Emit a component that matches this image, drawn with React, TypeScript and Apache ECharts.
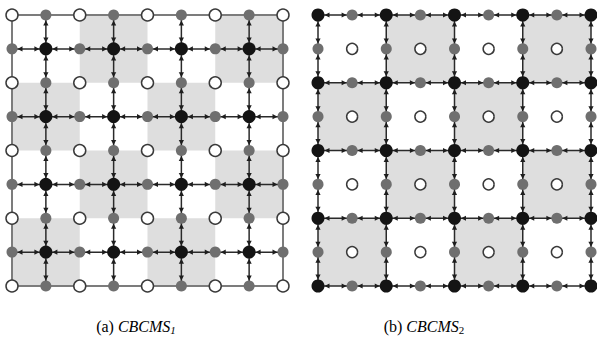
import React, { useEffect, useRef } from "react";
import * as echarts from "echarts";

// Node layouts: W = open (white) node, G = grey node, B = black node
const panelANodes = [
  "WGWGWGWGW",
  "GBGBGBGBG",
  "WGWGWGWGW",
  "GBGBGBGBG",
  "WGWGWGWGW",
  "GBGBGBGBG",
  "WGWGWGWGW",
  "GBGBGBGBG",
  "WGWGWGWGW",
];
const panelBNodes = [
  "BGBGBGBGB",
  "GWGWGWGWG",
  "BGBGBGBGB",
  "GWGWGWGWG",
  "BGBGBGBGB",
  "GWGWGWGWG",
  "BGBGBGBGB",
  "GWGWGWGWG",
  "BGBGBGBGB",
];
// Shaded 2x2 blocks (1 = shaded)
const panelAShade = ["0101", "1010", "0101", "1010"];
const panelBShade = ["0101", "1010", "0101", "1010"];
// Rows / columns that carry bidirectional arrow links
const panelAArrowLines = [1, 3, 5, 7];
const panelBArrowLines = [0, 2, 4, 6, 8];
// Plain grey border of panel (a)
const panelABorder = [[0, 0, 8, 8]];
const captions = ["(a)", "(b)"];
const captionNames = ["CBCMS", "CBCMS"];
const captionSubs = ["1", "2"];

const gapFor: Record<string, number> = { B: 6.5, G: 5.5, W: 6.5 };

function nodesOf(rows: string[], ch: string) {
  const out: number[][] = [];
  rows.forEach((r, y) => [...r].forEach((c, x) => { if (c === ch) out.push([x, y]); }));
  return out;
}
function segmentsOf(rows: string[], lines: number[]) {
  const out: number[][] = [];
  const n = rows.length;
  lines.forEach((k) => {
    for (let j = 0; j < n - 1; j++) {
      out.push([j, k, j + 1, k, gapFor[rows[k][j]], gapFor[rows[k][j + 1]]]);
      out.push([k, j, k, j + 1, gapFor[rows[j][k]], gapFor[rows[j + 1][k]]]);
    }
  });
  return out;
}
function shadeOf(rows: string[]) {
  const out: number[][] = [];
  rows.forEach((r, y) => [...r].forEach((c, x) => { if (c === "1") out.push([x, y]); }));
  return out;
}

const shadeRender = (params: any, api: any) => {
  const c = api.value(0), r = api.value(1);
  const p1 = api.coord([2 * c, 2 * r]);
  const p2 = api.coord([2 * c + 2, 2 * r + 2]);
  return {
    type: "rect",
    shape: { x: p1[0], y: p1[1], width: p2[0] - p1[0], height: p2[1] - p1[1] },
    style: { fill: "#dedede" },
  };
};

const borderRender = (params: any, api: any) => {
  const p1 = api.coord([api.value(0), api.value(1)]);
  const p2 = api.coord([api.value(2), api.value(3)]);
  return {
    type: "rect",
    shape: { x: p1[0], y: p1[1], width: p2[0] - p1[0], height: p2[1] - p1[1] },
    style: { fill: "none", stroke: "#7c7c7c", lineWidth: 2 },
  };
};

const arrowRender = (params: any, api: any) => {
  const p1 = api.coord([api.value(0), api.value(1)]);
  const p2 = api.coord([api.value(2), api.value(3)]);
  const g1 = api.value(4), g2 = api.value(5);
  const dx = p2[0] - p1[0], dy = p2[1] - p1[1];
  const len = Math.sqrt(dx * dx + dy * dy) || 1;
  const ux = dx / len, uy = dy / len;
  const px = -uy, py = ux;
  const L = 5, W = 2.6;
  const head = (tx: number, ty: number, sx: number, sy: number) => {
    const bx = tx - sx * L, by = ty - sy * L;
    return {
      type: "polygon",
      shape: { points: [[tx, ty], [bx + px * W, by + py * W], [bx - px * W, by - py * W]] },
      style: { fill: "#1e1e1e" },
    };
  };
  const t1x = p1[0] + ux * g1, t1y = p1[1] + uy * g1;
  const t2x = p2[0] - ux * g2, t2y = p2[1] - uy * g2;
  return {
    type: "group",
    children: [
      { type: "line", shape: { x1: p1[0], y1: p1[1], x2: p2[0], y2: p2[1] }, style: { stroke: "#2a2a2a", lineWidth: 1.5 } },
      head(t1x, t1y, -ux, -uy),
      head(t2x, t2y, ux, uy),
    ],
  };
};

function panelSeries(idx: number, nodes: string[], shade: string[], lines: number[], border: number[][] | null, whiteSize: number) {
  const base = { xAxisIndex: idx, yAxisIndex: idx };
  const s: any[] = [
    { ...base, type: "custom", renderItem: shadeRender, data: shadeOf(shade), z: 1, silent: true },
  ];
  if (border) s.push({ ...base, type: "custom", renderItem: borderRender, data: border, z: 2, silent: true });
  s.push({ ...base, type: "custom", renderItem: arrowRender, data: segmentsOf(nodes, lines), z: 3, silent: true });
  s.push({
    ...base, type: "scatter", data: nodesOf(nodes, "W"), symbol: "circle", symbolSize: whiteSize, z: 5,
    itemStyle: { color: "#ffffff", borderColor: "#3a3a3a", borderWidth: 1.5, opacity: 1 },
  });
  s.push({
    ...base, type: "scatter", data: nodesOf(nodes, "G"), symbol: "circle", symbolSize: 11, z: 5,
    itemStyle: { color: "#6f6f6f", opacity: 1 },
  });
  s.push({
    ...base, type: "scatter", data: nodesOf(nodes, "B"), symbol: "circle", symbolSize: 13, z: 5,
    itemStyle: { color: "#141414", opacity: 1 },
  });
  return s;
}

export default function App() {
  const ref = useRef<HTMLDivElement>(null);
  useEffect(() => {
    if (!ref.current) return;
    const chart = echarts.init(ref.current, null, { renderer: "svg" });
    const axisX = (i: number) => ({ type: "value", gridIndex: i, min: 0, max: 8, show: false });
    const axisY = (i: number) => ({ type: "value", gridIndex: i, min: 0, max: 8, inverse: true, show: false });
    const rich = {
      n: { fontFamily: "Liberation Serif", fontSize: 16, color: "#111" },
      i: { fontFamily: "Liberation Serif", fontSize: 16, fontStyle: "italic", color: "#111" },
      s1: { fontFamily: "Liberation Serif", fontSize: 11, fontStyle: "italic", color: "#111", padding: [8, 0, 0, 0] },
      s2: { fontFamily: "Liberation Serif", fontSize: 11, color: "#111", padding: [8, 0, 0, 0] },
    };
    const captionX = [136, 424];
    chart.setOption({
      animation: false,
      backgroundColor: "#ffffff",
      grid: [
        { left: 12, top: 15, width: 271, height: 271 },
        { left: 318, top: 15, width: 273, height: 271 },
      ],
      xAxis: [axisX(0), axisX(1)],
      yAxis: [axisY(0), axisY(1)],
      series: [
        ...panelSeries(0, panelANodes, panelAShade, panelAArrowLines, panelABorder, 12),
        ...panelSeries(1, panelBNodes, panelBShade, panelBArrowLines, null, 11),
      ],
      graphic: captions.map((c, k) => ({
        type: "text",
        x: captionX[k],
        y: 326,
        style: {
          text: `{n|${c} }{i|${captionNames[k]}}{${k === 0 ? "s1" : "s2"}|${captionSubs[k]}}`,
          rich,
          align: "center",
          verticalAlign: "middle",
        },
      })),
    });
    return () => chart.dispose();
  }, []);
  return <div ref={ref} style={{ position: "fixed", left: 0, top: 0, width: 597, height: 338 }} />;
}
